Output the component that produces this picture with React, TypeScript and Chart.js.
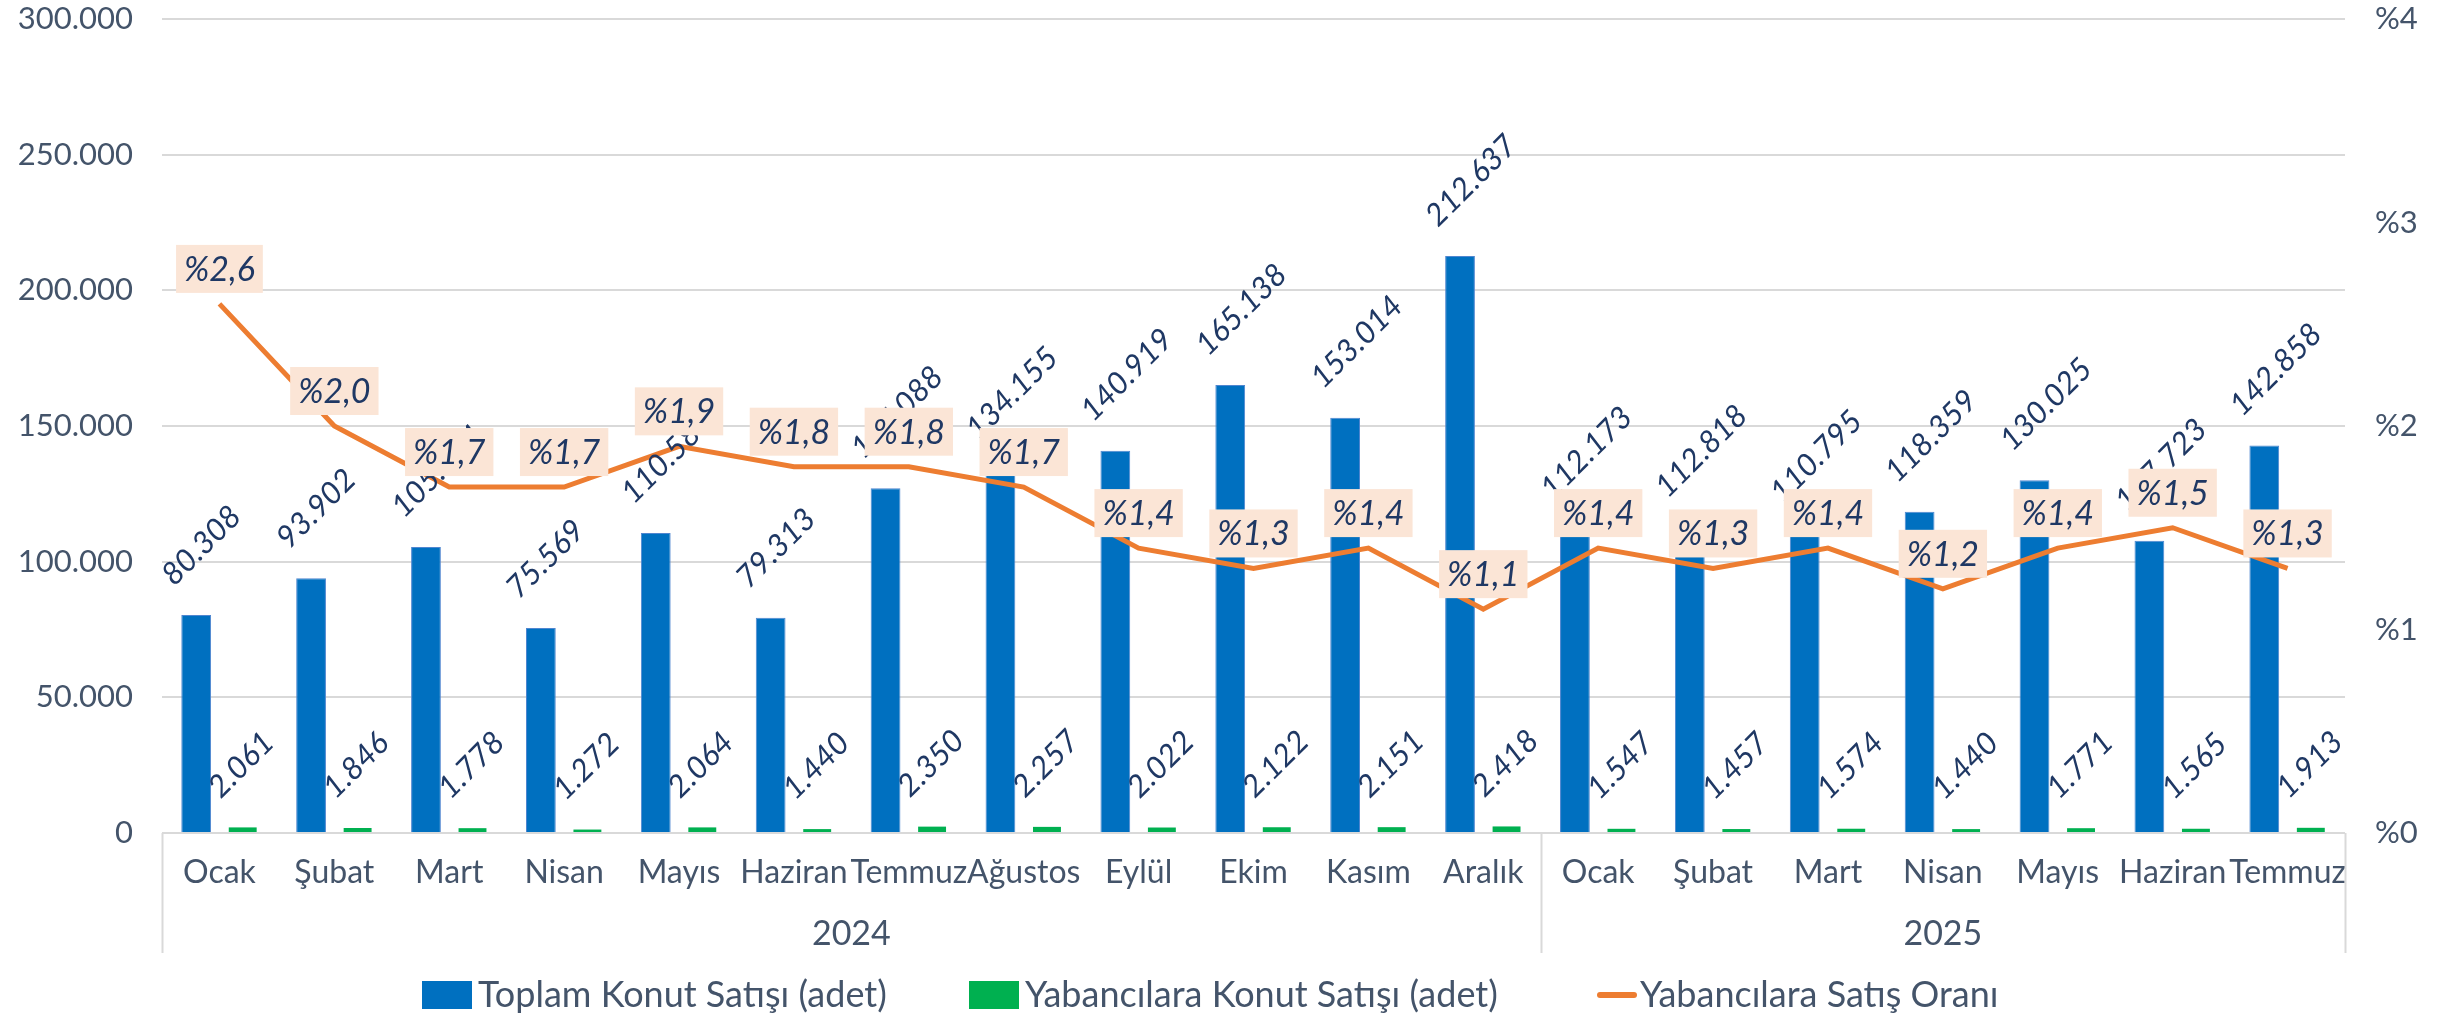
import React, { useEffect, useRef } from "react";
import { Chart, registerables } from "chart.js";

Chart.register(...registerables);

const months = ["Ocak", "Şubat", "Mart", "Nisan", "Mayıs", "Haziran", "Temmuz", "Ağustos", "Eylül", "Ekim", "Kasım", "Aralık", "Ocak", "Şubat", "Mart", "Nisan", "Mayıs", "Haziran", "Temmuz"];
const years = ["2024", "2025"];
const yearSpans = [12, 7];
const totalSales = [80308, 93902, 105394, 75569, 110588, 79313, 127088, 134155, 140919, 165138, 153014, 212637, 112173, 112818, 110795, 118359, 130025, 107723, 142858];
const foreignSales = [2061, 1846, 1778, 1272, 2064, 1440, 2350, 2257, 2022, 2122, 2151, 2418, 1547, 1457, 1574, 1440, 1771, 1565, 1913];
const foreignShare = [2.6, 2.0, 1.7, 1.7, 1.9, 1.8, 1.8, 1.7, 1.4, 1.3, 1.4, 1.1, 1.4, 1.3, 1.4, 1.2, 1.4, 1.5, 1.3];
const leftAxis = { min: 0, max: 300000, step: 50000 };
const rightAxis = { min: 0, max: 4, step: 1 };
const seriesNames = ["Toplam Konut Satışı (adet)", "Yabancılara Konut Satışı (adet)", "Yabancılara Satış Oranı"];

const BLUE = "#0070C0";
const GREEN = "#00B050";
const ORANGE = "#ED7D31";
const AXIS_TEXT = "#44546A";
const LABEL_TEXT = "#1F3864";
const PEACH = "#FBE5D6";
const GRID = "#D9D9D9";
const FONT = "Lato, 'Open Sans', sans-serif";

const W = 2448;
const H = 1020;
const PLOT_LEFT = 162;
const PLOT_RIGHT = 2345;
const PLOT_BOTTOM = 833;

const fmtThousands = (v: number) => String(Math.round(v)).replace(/\B(?=(\d{3})+(?!\d))/g, ".");
const fmtPct = (v: number) => "%" + v.toFixed(1).replace(".", ",");

const overlayPlugin = {
  id: "overlay",
  afterDatasetsDraw(chart: any) {
    const ctx: CanvasRenderingContext2D = chart.ctx;
    const area = chart.chartArea;
    // bar value labels (rotated)
    [0, 1].forEach((di) => {
      const meta = chart.getDatasetMeta(di);
      const values = di === 0 ? totalSales : foreignSales;
      meta.data.forEach((bar: any, i: number) => {
        ctx.save();
        ctx.translate(bar.x - 22, bar.y - 28);
        ctx.rotate(-Math.PI / 4);
        ctx.font = `italic 31px ${FONT}`;
        ctx.fillStyle = LABEL_TEXT;
        ctx.textAlign = "left";
        ctx.textBaseline = "alphabetic";
        ctx.fillText(fmtThousands(values[i]), 0, 0);
        ctx.restore();
      });
    });
    // percentage labels in boxes
    const lineMeta = chart.getDatasetMeta(2);
    lineMeta.data.forEach((pt: any, i: number) => {
      const text = fmtPct(foreignShare[i]);
      ctx.save();
      ctx.font = `italic 34px ${FONT}`;
      const tw = ctx.measureText(text).width;
      const bw = tw + 16;
      const bh = 48;
      const cx = pt.x;
      const cy = pt.y - 35;
      ctx.fillStyle = PEACH;
      ctx.fillRect(cx - bw / 2, cy - bh / 2, bw, bh);
      ctx.fillStyle = LABEL_TEXT;
      ctx.textAlign = "center";
      ctx.textBaseline = "middle";
      ctx.fillText(text, cx, cy + 1);
      ctx.restore();
    });
    // year group labels and separators
    const n = months.length;
    const catW = (area.right - area.left) / n;
    ctx.save();
    ctx.strokeStyle = GRID;
    ctx.lineWidth = 2;
    let start = 0;
    const bounds = [area.left];
    years.forEach((y, k) => {
      const end = start + yearSpans[k];
      const x0 = area.left + start * catW;
      const x1 = area.left + end * catW;
      bounds.push(x1);
      ctx.font = `34px ${FONT}`;
      ctx.fillStyle = AXIS_TEXT;
      ctx.textAlign = "center";
      ctx.textBaseline = "middle";
      ctx.fillText(y, (x0 + x1) / 2, 934);
      start = end;
    });
    bounds.forEach((bx) => {
      ctx.beginPath();
      ctx.moveTo(Math.round(bx) + 0.5, area.bottom);
      ctx.lineTo(Math.round(bx) + 0.5, 953);
      ctx.stroke();
    });
    ctx.restore();
    // legend
    ctx.save();
    ctx.font = `36px ${FONT}`;
    ctx.textBaseline = "middle";
    ctx.textAlign = "left";
    const ly = 995;
    const markers = [422, 969, 1597];
    seriesNames.forEach((name, k) => {
      const mx = markers[k];
      if (k < 2) {
        ctx.fillStyle = k === 0 ? BLUE : GREEN;
        ctx.fillRect(mx, ly - 14, 50, 28);
        ctx.fillStyle = AXIS_TEXT;
        ctx.fillText(name, mx + 56, ly);
      } else {
        ctx.strokeStyle = ORANGE;
        ctx.lineWidth = 6;
        ctx.lineCap = "round";
        ctx.beginPath();
        ctx.moveTo(mx + 3, ly);
        ctx.lineTo(mx + 37, ly);
        ctx.stroke();
        ctx.fillStyle = AXIS_TEXT;
        ctx.fillText(name, mx + 43, ly);
      }
    });
    ctx.restore();
  },
};

export default function App() {
  const ref = useRef<HTMLCanvasElement | null>(null);
  useEffect(() => {
    if (!ref.current) return;
    const chart = new Chart(ref.current, {
      type: "bar",
      data: {
        labels: months,
        datasets: [
          {
            type: "bar",
            label: seriesNames[0],
            data: totalSales,
            backgroundColor: BLUE,
            borderColor: "#4F86D0",
            borderWidth: 1,
            yAxisID: "y",
            order: 2,
            categoryPercentage: 0.81,
            barPercentage: 0.64,
          },
          {
            type: "bar",
            label: seriesNames[1],
            data: foreignSales,
            backgroundColor: GREEN,
            borderWidth: 0,
            yAxisID: "y",
            order: 2,
            categoryPercentage: 0.81,
            barPercentage: 0.6,
          },
          {
            type: "line",
            label: seriesNames[2],
            data: foreignShare,
            borderColor: ORANGE,
            backgroundColor: ORANGE,
            borderWidth: 5,
            pointRadius: 0,
            tension: 0,
            yAxisID: "y1",
            order: 1,
          },
        ],
      },
      options: {
        responsive: false,
        animation: false,
        devicePixelRatio: 1,
        layout: { padding: { top: 19, left: 0, right: 0, bottom: 0 } },
        plugins: {
          legend: { display: false },
          tooltip: { enabled: false },
        },
        scales: {
          x: {
            grid: { display: false, drawTicks: false },
            border: { display: false },
            ticks: {
              color: AXIS_TEXT,
              font: { family: FONT, size: 32 },
              padding: 20,
              maxRotation: 0,
              minRotation: 0,
              autoSkip: false,
            },
            afterFit: (s: any) => {
              s.height = H - PLOT_BOTTOM;
              s.paddingLeft = 0;
              s.paddingRight = 0;
            },
          },
          y: {
            position: "left",
            min: leftAxis.min,
            max: leftAxis.max,
            grid: { color: GRID, lineWidth: 2, drawTicks: false },
            border: { display: false },
            ticks: {
              stepSize: leftAxis.step,
              color: AXIS_TEXT,
              font: { family: FONT, size: 31 },
              padding: 29,
              callback: (v: any) => fmtThousands(Number(v)),
            },
            afterFit: (s: any) => {
              s.width = PLOT_LEFT;
              s.paddingTop = 0;
              s.paddingBottom = 0;
            },
          },
          y1: {
            position: "right",
            min: rightAxis.min,
            max: rightAxis.max,
            grid: { display: false, drawTicks: false },
            border: { display: false },
            ticks: {
              stepSize: rightAxis.step,
              color: AXIS_TEXT,
              font: { family: FONT, size: 31 },
              padding: 30,
              callback: (v: any) => "%" + v,
            },
            afterFit: (s: any) => {
              s.width = W - PLOT_RIGHT;
              s.paddingTop = 0;
              s.paddingBottom = 0;
            },
          },
        },
      },
      plugins: [overlayPlugin],
    });
    return () => chart.destroy();
  }, []);
  return (
    <div style={{ position: "fixed", left: 0, top: 0, width: W, height: H, background: "#fff" }}>
      <canvas ref={ref} width={W} height={H} style={{ display: "block", width: W, height: H }} />
    </div>
  );
}
